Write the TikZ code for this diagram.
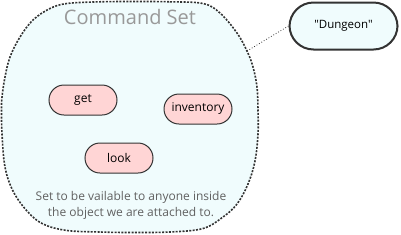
\documentclass[tikz,border=0pt]{standalone}
\usepackage{fontspec}
\setmainfont{Open Sans}
\newfontfamily\plainsans{Open Sans}[Ligatures=ResetAll]
\definecolor{blobfill}{HTML}{F0FCFD}
\definecolor{pillfill}{HTML}{FFD5D5}
\definecolor{edge}{HTML}{333333}
\begin{document}
\begin{tikzpicture}[x=1pt,y=-1pt,
  pill/.style={draw=edge,line width=1pt,fill=pillfill,rounded corners=15pt,minimum width=68pt,minimum height=30pt,inner sep=0pt,font=\fontsize{12}{14}\selectfont},
  objbox/.style={draw=edge,line width=2pt,fill=blobfill,rounded corners=24pt,minimum width=108pt,minimum height=47pt,inner sep=0pt,font=\plainsans\fontsize{11.5}{13}\selectfont},
  setline/.style={draw=edge,line width=1.6pt,dash pattern=on 2pt off 1.4pt,fill=blobfill}]
\useasboundingbox (0,0) rectangle (401,234);
\draw[setline] plot[smooth cycle,tension=0.6] coordinates {
 (135,1.5) (170,1.8) (203,3.5) (220,13) (237,33) (247,51) (253,67) (257,87) (258,110) (258,134)
 (255,161) (248,184) (237,204) (223,217) (203,228.5) (170,232) (130,232.5) (100,232) (67,230.5)
 (43,224) (27,211) (13,191) (5,167) (2,134) (1.5,110) (2,97) (5,77) (10,57) (20,37) (33,20)
 (50,8.5) (67,3.5) (100,1.8)};
\node[font=\fontsize{20}{24}\selectfont,text=black!40] (title) at (130,17) {Command Set};
\node[align=center,font=\fontsize{12}{16}\selectfont,text=black!62] (note) at (131,205) {Set to be vailable to anyone inside\\the object we are attached to.};
\node[pill] (get) at (83,100) {get};
\node[pill] (inv) at (198,109) {inventory};
\node[pill] (look) at (119,158) {look};
\node[objbox] (dungeon) at (343.5,26) {"Dungeon"};
\coordinate (setcorner) at (247,51);
\draw[dotted,line width=0.8pt,edge] (setcorner) -- (dungeon.west);
\end{tikzpicture}
\end{document}
